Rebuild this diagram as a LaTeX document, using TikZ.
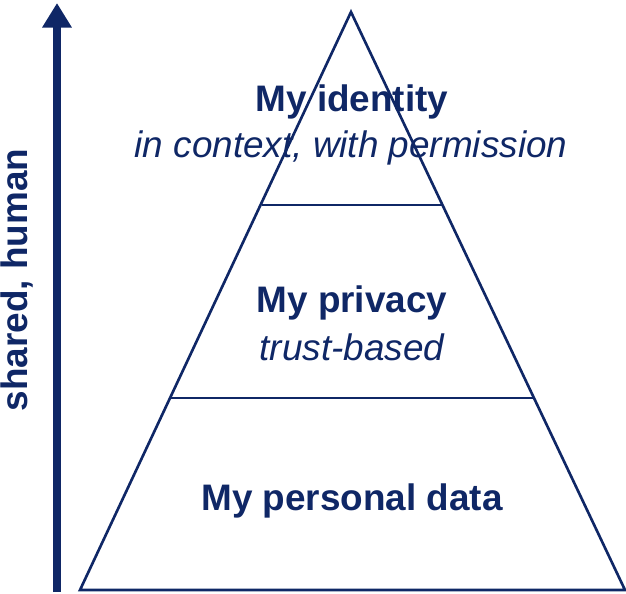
\documentclass[tikz,border=0pt]{standalone}
\usepackage{fontspec}
\setmainfont{Liberation Sans}
\usetikzlibrary{arrows.meta, positioning}
\definecolor{navy}{HTML}{0F2766}
\tikzset{
	level/.style={text=navy, font=\fontsize{21}{24}\selectfont\bfseries, align=center},
	sub/.style={text=navy, font=\fontsize{21}{24}\selectfont\itshape, align=center},
	edge/.style={draw=navy, line width=1.5pt}
}
\begin{document}
\begin{tikzpicture}[x=0.02cm, y=-0.02cm]
	\useasboundingbox (0,0) rectangle (626,593);
	% pyramid
	\coordinate (top) at (351,12);
	\coordinate (bl) at (80,590);
	\coordinate (br) at (625,590);
	\coordinate (l1) at (262,205);
	\coordinate (r1) at (442,205);
	\coordinate (l2) at (171,398);
	\coordinate (r2) at (535,398);
	\draw[edge] (top) -- (bl) -- (br) -- cycle;
	\draw[edge] (l1) -- (r1);
	\draw[edge] (l2) -- (r2);
	% texts
	\node[level] (ident) at (352,102) {My identity};
	\node[sub] (ctx) at (351,148) {in context, with permission};
	\node[level] (priv) at (352,303) {My privacy};
	\node[sub] (trust) at (352,347) {trust-based};
	\node[level] (data) at (352,501) {My personal data};
	% arrow
	\coordinate (abot) at (57,592);
	\coordinate (atop) at (57,3);
	\draw[navy, line width=4.5pt, -{Triangle[length=14pt, width=16pt]}] (abot) -- (atop);
	\node[level, rotate=90] (shared) at (17,280) {shared, human};
\end{tikzpicture}
\end{document}
